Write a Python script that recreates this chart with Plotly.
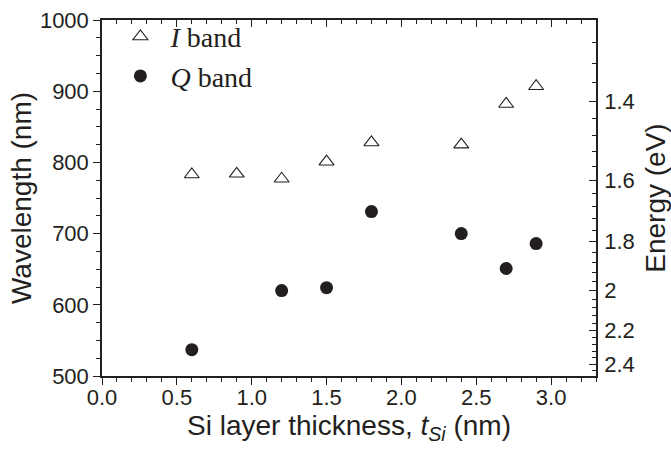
import plotly.graph_objects as go

# Data
thickness_I = [0.6, 0.9, 1.2, 1.5, 1.8, 2.4, 2.7, 2.9]
wavelength_I = [783, 784, 777, 801, 828, 825, 882, 907]
thickness_Q = [0.6, 1.2, 1.5, 1.8, 2.4, 2.7, 2.9]
wavelength_Q = [537, 620, 624, 731, 700, 651, 686]

energy_major = [1.4, 1.6, 1.8, 2.0, 2.2, 2.4]
energy_labels = ["1.4", "1.6", "1.8", "2", "2.2", "2.4"]
energy_minor = [round(1.24 + 0.04 * k, 2) for k in range(32)]

HC = 1240.0  # eV*nm
INK = "#231f20"
SANS = "Liberation Sans, Arial, sans-serif"
SERIF = "Liberation Serif, Times New Roman, serif"

fig = go.Figure()
fig.add_trace(go.Scatter(
    x=thickness_I, y=wavelength_I, mode="markers", name="<i>I</i> band",
    marker=dict(symbol="triangle-up-open", size=13, color=INK, line=dict(width=1.1, color=INK)),
))
fig.add_trace(go.Scatter(
    x=thickness_Q, y=wavelength_Q, mode="markers", name="<i>Q</i> band",
    marker=dict(symbol="circle", size=13, color=INK, line=dict(width=0)),
))
# invisible trace to activate the top/right axes
fig.add_trace(go.Scatter(x=[None], y=[None], xaxis="x2", yaxis="y2", showlegend=False, hoverinfo="skip"))

axis_common = dict(showgrid=False, zeroline=False, showline=True, linecolor=INK, linewidth=1.5,
                   tickcolor=INK, tickwidth=1.3, automargin=False)

fig.update_layout(
    width=671, height=452,
    margin=dict(l=102, r=75, t=13, b=76),
    paper_bgcolor="white", plot_bgcolor="white",
    showlegend=True,
    legend=dict(x=0.017, y=1.023, xanchor="left", yanchor="top", bgcolor="rgba(0,0,0,0)",
                font=dict(family=SERIF, size=28, color=INK), itemwidth=50,
                tracegroupgap=0),
    xaxis=dict(range=[0, 3.3], dtick=0.5, tick0=0, tickformat=".1f", ticks="outside", ticklen=7,
               tickfont=dict(family=SANS, size=22, color=INK), ticklabelstandoff=-6,
               minor=dict(dtick=0.1, tick0=0, ticks="outside", ticklen=4, tickcolor=INK, tickwidth=1.3),
               title=dict(text="Si layer thickness, <i>t</i><sub><i>Si</i></sub> (nm)",
                          font=dict(family=SANS, size=28, color=INK), standoff=2),
               **axis_common),
    xaxis2=dict(range=[0, 3.3], overlaying="x", side="top", dtick=0.5, tick0=0, ticks="inside",
                ticklen=7, showticklabels=False,
                minor=dict(dtick=0.1, tick0=0, ticks="inside", ticklen=4, tickcolor=INK, tickwidth=1.3),
                **axis_common),
    yaxis=dict(range=[500, 1000], dtick=100, tick0=500, ticks="outside", ticklen=7,
               tickfont=dict(family=SANS, size=22, color=INK),
               minor=dict(dtick=25, tick0=500, ticks="outside", ticklen=4, tickcolor=INK, tickwidth=1.3),
               title=dict(text="Wavelength (nm)", font=dict(family=SANS, size=28, color=INK), standoff=0),
               **axis_common),
    yaxis2=dict(range=[500, 1000], overlaying="y", side="right", anchor="x",
                tickmode="array", tickvals=[HC / e for e in energy_major], ticktext=energy_labels,
                ticks="inside", ticklen=7, ticklabelstandoff=2,
                tickfont=dict(family=SANS, size=22, color=INK),
                minor=dict(tickmode="array", tickvals=[HC / e for e in energy_minor],
                           ticks="inside", ticklen=4, tickcolor=INK, tickwidth=1.3),
                title=dict(text="Energy (eV)", font=dict(family=SANS, size=28, color=INK), standoff=14),
                **axis_common),
)

# remove the default 8px page margin so the figure sits at the window's corner
fig.write_html("out.html", config={"displayModeBar": False},
               post_script="document.body.style.margin='0';")
